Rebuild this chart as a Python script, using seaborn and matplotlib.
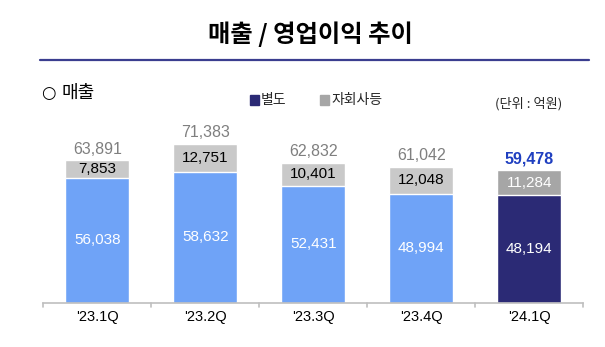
import matplotlib
matplotlib.use("Agg")
import matplotlib.pyplot as plt
import seaborn as sns
import pandas as pd

quarters = ["'23.1Q", "'23.2Q", "'23.3Q", "'23.4Q", "'24.1Q"]
standalone = [56038, 58632, 52431, 48994, 48194]
subsidiaries = [7853, 12751, 10401, 12048, 11284]
totals = [63891, 71383, 62832, 61042, 59478]

sns.set_theme(style="white")
plt.rcParams['font.family'] = ['Liberation Sans', 'Noto Sans CJK KR', 'DejaVu Sans']
KR = ['Noto Sans CJK KR', 'DejaVu Sans']

df = pd.DataFrame({"quarter": quarters, "standalone": standalone,
                   "subsidiaries": subsidiaries, "total": totals})

blue = "#6FA3F7"
navy = "#2B2A75"
grey_light = "#C9C9C9"
grey_dark = "#A6A6A6"

W, H = 605, 347
fig = plt.figure(figsize=(6.05, 3.47), dpi=100)
ax = fig.add_axes([43.3/W, 1-302.7/H, 540/W, (302.7-110)/H])

sns.barplot(data=df, x="quarter", y="total", hue="quarter",
            palette=[grey_light]*4 + [grey_dark], width=0.595,
            legend=False, ax=ax, saturation=1)
sns.barplot(data=df, x="quarter", y="standalone", hue="quarter",
            palette=[blue]*4 + [navy], width=0.595,
            legend=False, ax=ax, saturation=1)

ax.set_ylim(0, 86490)
ax.set_xlim(-0.5, 4.5)
ax.set_xlabel("")
ax.set_ylabel("")
ax.set_yticks([])
for s in ["top", "right", "left"]:
    ax.spines[s].set_visible(False)
ax.spines["bottom"].set_color("#BFBFBF")
ax.spines["bottom"].set_linewidth(1.2)
ax.set_xticks(range(len(quarters)))
ax.set_xticklabels(quarters, fontsize=10.5, color="black")
ax.tick_params(axis="x", length=0, pad=5)
for b in [-0.5, 0.5, 1.5, 2.5, 3.5, 4.5]:
    ax.plot([b, b], [0, -1800], color="#BFBFBF", lw=1.2, clip_on=False)

for i in range(len(quarters)):
    last = i == len(quarters) - 1
    ax.text(i, standalone[i] / 2, f"{standalone[i]:,}", ha="center", va="center",
            color="white", fontsize=11)
    ax.text(i, standalone[i] + subsidiaries[i] / 2, f"{subsidiaries[i]:,}",
            ha="center", va="center", color="white" if last else "black", fontsize=11)
    ax.annotate(f"{totals[i]:,}", (i, totals[i]), xytext=(0, 4.5), textcoords="offset points",
                ha="center", va="baseline",
                color="#1F3FC0" if last else "#7F7F7F",
                fontsize=11.5, fontweight="bold" if last else "normal")

# header
fig.text(310/W, 1-34/H, "매출 / 영업이익 추이", ha="center", va="center",
         fontsize=17.5, fontweight="bold", family=KR, color="black")
fig.add_artist(plt.Line2D([40/W, 589/W], [1-60/H, 1-60/H],
                          color="#3A3D8F", lw=1.6))
fig.text(41/W, 1-92.5/H, "○", ha="left", va="center",
         fontsize=12, family=['DejaVu Sans'], color="black")
fig.text(62/W, 1-92.5/H, "매출", ha="left", va="center",
         fontsize=13, family=KR, color="black", fontweight="medium")

# legend
fig.patches.append(plt.Rectangle((250/W, 1-105/H), 9.3/W, 10/H,
                                 transform=fig.transFigure, color=navy))
fig.text(261/W, 1-100/H, "별도", ha="left", va="center", fontsize=10, family=KR)
fig.patches.append(plt.Rectangle((320/W, 1-105/H), 9.3/W, 10/H,
                                 transform=fig.transFigure, color=grey_dark))
fig.text(331/W, 1-100/H, "자회사등", ha="left", va="center", fontsize=10, family=KR)
fig.text(529/W, 1-103.5/H, "(단위 : 억원)", ha="center", va="center", fontsize=9.5, family=KR)

fig.savefig("out.png", dpi=100, facecolor="white")
